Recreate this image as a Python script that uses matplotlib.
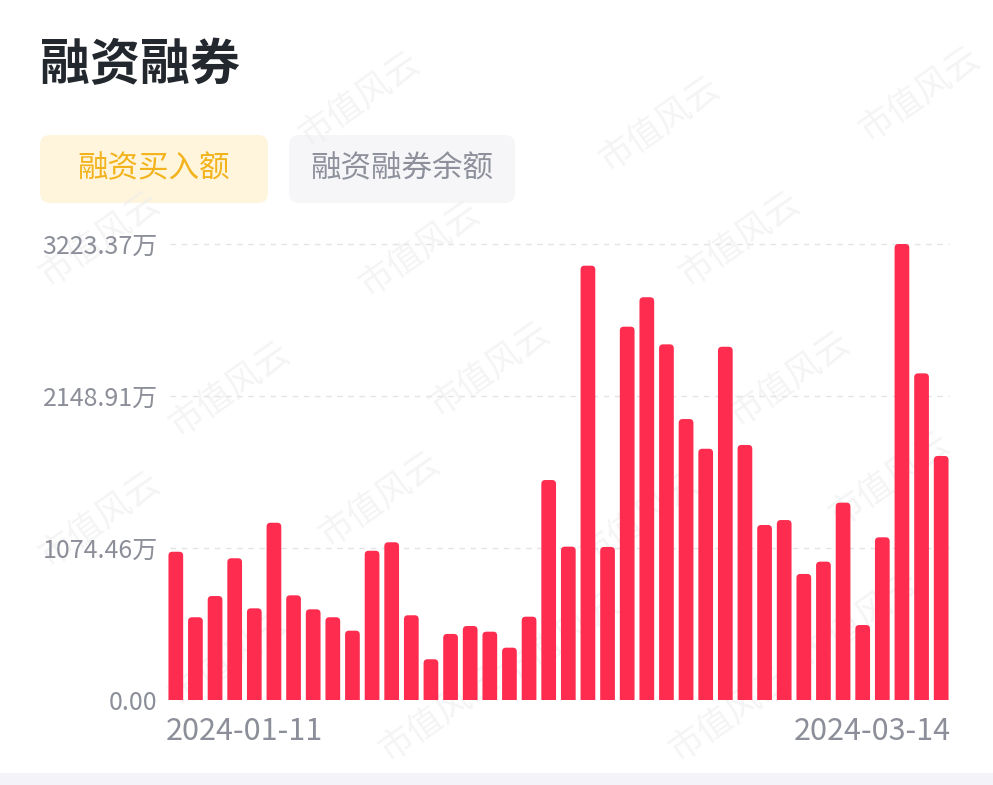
import matplotlib
matplotlib.use("Agg")
import matplotlib.pyplot as plt
from matplotlib.patches import FancyBboxPatch, Rectangle

plt.rcParams['font.family'] = ['Noto Sans CJK SC', 'DejaVu Sans']

# trading days shown in the chart (only first and last are labelled)
dates = ["2024-01-11", "2024-01-12", "2024-01-15", "2024-01-16", "2024-01-17",
         "2024-01-18", "2024-01-19", "2024-01-22", "2024-01-23", "2024-01-24",
         "2024-01-25", "2024-01-26", "2024-01-29", "2024-01-30", "2024-01-31",
         "2024-02-01", "2024-02-02", "2024-02-05", "2024-02-06", "2024-02-07",
         "2024-02-08", "2024-02-19", "2024-02-20", "2024-02-21", "2024-02-22",
         "2024-02-23", "2024-02-26", "2024-02-27", "2024-02-28", "2024-02-29",
         "2024-03-01", "2024-03-04", "2024-03-05", "2024-03-06", "2024-03-07",
         "2024-03-08", "2024-03-11", "2024-03-12", "2024-03-13", "2024-03-14"]

# 融资买入额, 万元
buy_amount = [1048, 585, 735, 1002, 648, 1253, 740, 641, 585, 490,
              1055, 1115, 599, 288, 467, 523, 483, 370, 589, 1555,
              1084, 3070, 1082, 2639, 2847, 2514, 1986, 1776, 2497, 1803,
              1237, 1272, 891, 978, 1395, 530, 1150, 3223.37, 2309, 1725]

y_ticks = [0, 1074.46, 2148.91, 3223.37]
tabs = ["融资买入额", "融资融券余额"]

W, H = 993, 785
fig = plt.figure(figsize=(W / 100, H / 100), dpi=100)
fig.patch.set_facecolor("white")

# background layer in pixel coordinates
bg = fig.add_axes([0, 0, 1, 1], zorder=0)
bg.set_xlim(0, W)
bg.set_ylim(H, 0)
bg.axis("off")

# watermark
wm_pos = [(360, 100), (660, 125), (920, 95), (100, 240), (420, 250), (740, 240),
          (230, 390), (490, 370), (790, 380), (100, 520), (380, 500), (640, 520),
          (890, 480), (230, 660), (560, 640), (860, 620), (440, 715), (730, 715)]
for x, y in wm_pos:
    bg.text(x, y, "市值风云", fontsize=25, color="#ececec", alpha=0.55,
            fontweight="light", rotation=35, ha="center", va="center")

# title
bg.text(40, 66, "融资融券", fontsize=36, fontweight="bold", color="#23272e",
        ha="left", va="center")

# tab buttons
bg.add_patch(FancyBboxPatch((40, 135), 228, 68, boxstyle="round,pad=0,rounding_size=10",
                            facecolor="#fff5dc", edgecolor="none"))
bg.add_patch(FancyBboxPatch((289, 135), 226, 68, boxstyle="round,pad=0,rounding_size=10",
                            facecolor="#f6f6f8", edgecolor="none"))
bg.text(154, 169, tabs[0], fontsize=22, color="#f2b31c", ha="center", va="center")
bg.text(402, 169, tabs[1], fontsize=22, color="#8e919c", ha="center", va="center")

# bottom strip
bg.add_patch(Rectangle((0, 773), W, 12, facecolor="#f3f3f9", edgecolor="none"))

# bar chart
left, right, bottom, top = 166, 951, 700, 230
ax = fig.add_axes([left / W, (H - bottom) / H, (right - left) / W, (bottom - top) / H], zorder=1)
ax.patch.set_alpha(0)
n = len(buy_amount)
ymax = y_ticks[-1] * (bottom - top) / (bottom - 244)
ax.set_xlim(-0.5, n - 0.5)
ax.set_ylim(0, ymax)

px_x = (right - left) / n
px_y = (bottom - top) / ymax
aspect = px_x / px_y
bw = 0.75
for i, v in enumerate(buy_amount):
    ax.add_patch(FancyBboxPatch((i - bw / 2, -8 / px_y), bw, v + 8 / px_y,
                                boxstyle="round,pad=0,rounding_size=0.2",
                                mutation_aspect=aspect,
                                facecolor="#fe2c4f", edgecolor="none"))

for t in y_ticks[1:]:
    ax.axhline(t, xmin=0.005, xmax=0.997, color="#e4e4e4", lw=1, ls=(0, (4, 4)), zorder=0)

ax.set_yticks(y_ticks)
ax.set_yticklabels(["0.00" if t == 0 else f"{t:.2f}万" for t in y_ticks],
                   fontsize=18, color="#8c8f99")
ax.tick_params(axis="y", length=0, pad=6)
ax.set_xticks([])
for s in ax.spines.values():
    s.set_visible(False)

ax.text(-0.5, -31 / (bottom - top), dates[0], transform=ax.get_xaxis_transform(),
        fontsize=22, color="#8c8f99", ha="left", va="center")
ax.text(n - 0.5, -31 / (bottom - top), dates[-1], transform=ax.get_xaxis_transform(),
        fontsize=22, color="#8c8f99", ha="right", va="center")

fig.savefig("out.png", dpi=100)
